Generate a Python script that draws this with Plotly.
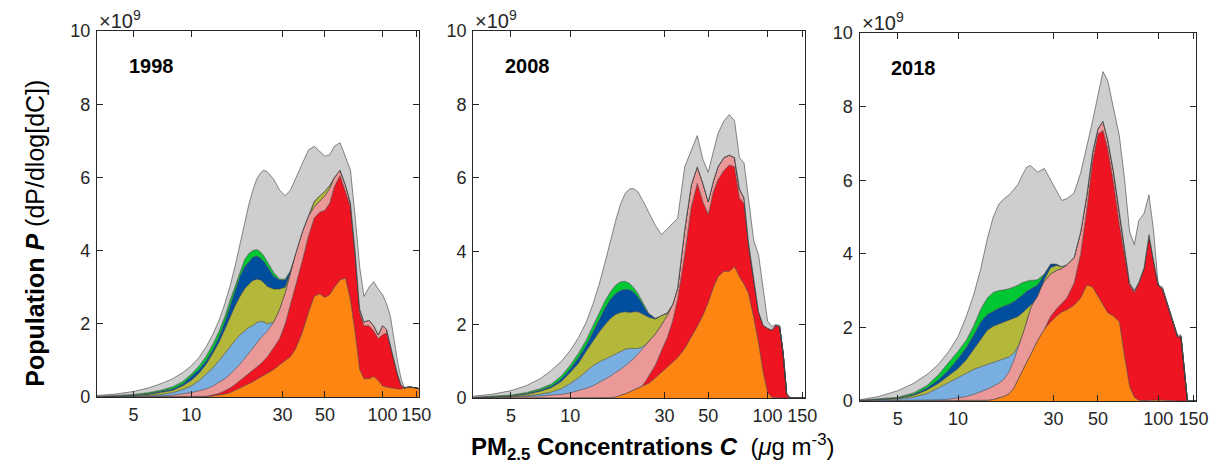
import plotly.graph_objects as go
from plotly.subplots import make_subplots

# PM2.5 concentration grid (ug m-3), shared by all panels
C = [3.2, 4, 5, 6, 7, 8, 9, 10, 11, 12, 13, 14, 15, 16, 17, 18, 19, 20, 21, 22, 23, 24, 25,
     27, 29, 31, 33, 35, 38, 41, 44, 47, 50, 53, 56, 60, 64, 68, 72, 76, 80,
     85, 90, 95, 100, 105, 110, 115, 120, 125, 130, 135, 140, 150, 160]

# cumulative tops of each stacked layer (x1e9), bottom layer first
# 1998
P1998_ORANGE = [0, 0, 0, 0, 0, 0, 0, 0, 0.01, 0.01, 0.03, 0.05, 0.08, 0.12, 0.18, 0.24, 0.3, 0.36, 0.42, 0.48, 0.53, 0.58, 0.63,
                0.75, 0.88, 1.0, 1.1, 1.3, 1.75, 2.3, 2.75, 2.82, 2.72, 2.8, 3.0, 3.2, 3.25, 2.65, 1.75, 0.75, 0.5,
                0.5, 0.56, 0.45, 0.3, 0.27, 0.25, 0.24, 0.22, 0.22, 0.25, 0.27, 0.27, 0.25, 0.2]
P1998_RED = [0, 0, 0, 0, 0, 0, 0, 0, 0.01, 0.02, 0.06, 0.1, 0.17, 0.25, 0.35, 0.45, 0.55, 0.65, 0.73, 0.8, 0.9, 1.0, 1.1,
             1.35, 1.6, 2.0, 2.5, 3.0, 3.7, 4.4, 4.9, 5.05, 5.1, 5.3, 5.75, 6.05, 5.6, 5.2, 3.8, 2.3, 1.95,
             1.95, 1.8, 1.6, 1.7, 1.75, 1.4, 0.95, 0.6, 0.32, 0.25, 0.27, 0.27, 0.25, 0.2]
P1998_PINK = [0, 0.005, 0.01, 0.02, 0.03, 0.05, 0.08, 0.12, 0.17, 0.22, 0.3, 0.4, 0.5, 0.62, 0.75, 0.9, 1.05, 1.2, 1.35, 1.5, 1.6, 1.7, 1.8,
              2.05, 2.4, 2.85, 3.4, 3.9, 4.5, 4.95, 5.2, 5.35, 5.5, 5.7, 6.0, 6.2, 5.8, 5.3, 3.95, 2.4, 2.05,
              2.1, 1.95, 1.7, 1.95, 1.85, 1.45, 1.0, 0.62, 0.33, 0.25, 0.27, 0.27, 0.25, 0.2]
P1998_LBLUE = [0.005, 0.01, 0.02, 0.04, 0.07, 0.12, 0.2, 0.3, 0.45, 0.62, 0.8, 1.0, 1.2, 1.4, 1.55, 1.7, 1.8, 1.9, 1.95, 2.03, 2.07, 2.05, 2.0,
               2.05, 2.4, 2.85, 3.4, 3.9, 4.5, 4.95, 5.2, 5.35, 5.5, 5.7, 6.0, 6.2, 5.8, 5.3, 3.95, 2.4, 2.05,
               2.1, 1.95, 1.7, 1.95, 1.85, 1.45, 1.0, 0.62, 0.33, 0.25, 0.27, 0.27, 0.25, 0.2]
P1998_OLIVE = [0.01, 0.02, 0.04, 0.07, 0.12, 0.18, 0.3, 0.45, 0.65, 0.9, 1.2, 1.5, 1.85, 2.2, 2.5, 2.75, 2.95, 3.08, 3.18, 3.22, 3.2, 3.12, 3.02,
               2.95, 2.95, 3.0, 3.4, 3.9, 4.5, 4.95, 5.35, 5.5, 5.62, 5.78, 6.0, 6.2, 5.8, 5.3, 3.95, 2.4, 2.05,
               2.1, 1.95, 1.7, 1.95, 1.85, 1.45, 1.0, 0.62, 0.33, 0.25, 0.27, 0.27, 0.25, 0.2]
P1998_DBLUE = [0.01, 0.03, 0.05, 0.09, 0.15, 0.22, 0.35, 0.55, 0.75, 1.0, 1.3, 1.65, 2.05, 2.5, 2.9, 3.3, 3.55, 3.7, 3.82, 3.85, 3.8, 3.7, 3.55,
               3.3, 3.2, 3.2, 3.45, 3.9, 4.5, 4.95, 5.35, 5.5, 5.62, 5.78, 6.0, 6.2, 5.8, 5.3, 3.95, 2.4, 2.05,
               2.1, 1.95, 1.7, 1.95, 1.85, 1.45, 1.0, 0.62, 0.33, 0.25, 0.27, 0.27, 0.25, 0.2]
P1998_GREEN = [0.015, 0.04, 0.07, 0.12, 0.19, 0.28, 0.42, 0.62, 0.85, 1.12, 1.45, 1.8, 2.2, 2.65, 3.05, 3.45, 3.75, 3.92, 4.0, 4.03, 3.97, 3.85, 3.7,
               3.4, 3.22, 3.22, 3.45, 3.9, 4.5, 4.95, 5.35, 5.5, 5.62, 5.78, 6.0, 6.2, 5.8, 5.3, 3.95, 2.4, 2.05,
               2.1, 1.95, 1.7, 1.95, 1.85, 1.45, 1.0, 0.62, 0.33, 0.25, 0.27, 0.27, 0.25, 0.2]
P1998_GRAY = [0.04, 0.08, 0.15, 0.25, 0.37, 0.5, 0.66, 0.85, 1.08, 1.38, 1.72, 2.1, 2.55, 3.05, 3.6, 4.2, 4.75, 5.25, 5.65, 5.95, 6.12, 6.2, 6.15,
              5.95, 5.65, 5.5, 5.65, 5.95, 6.35, 6.75, 6.85, 6.72, 6.58, 6.62, 6.85, 6.95, 6.55, 6.2, 4.9, 3.55, 2.75,
              3.0, 3.15, 2.95, 2.8, 2.55, 2.2, 1.55, 0.95, 0.5, 0.26, 0.27, 0.27, 0.25, 0.2]

# 2008
P2008_ORANGE = [0, 0, 0, 0, 0, 0, 0, 0, 0, 0, 0, 0, 0.01, 0.01, 0.03, 0.07, 0.12, 0.17, 0.22, 0.27, 0.3, 0.35, 0.4,
                0.55, 0.7, 0.82, 0.95, 1.1, 1.35, 1.65, 1.95, 2.25, 2.6, 3.0, 3.3, 3.45, 3.45, 3.58, 3.3, 3.1, 2.85,
                2.2, 1.5, 0.7, 0.15, 0.02, 0, 0, 0, 0, 0, 0, 0, 0, 0]
P2008_RED = [0, 0, 0, 0, 0, 0, 0, 0, 0, 0, 0, 0, 0.01, 0.01, 0.03, 0.07, 0.12, 0.17, 0.22, 0.27, 0.32, 0.45, 0.6,
             0.9, 1.3, 1.65, 2.1, 2.7, 3.9, 5.2, 5.85, 5.35, 5.0, 5.6, 5.95, 6.2, 6.35, 6.3, 5.45, 5.3, 4.15,
             3.2, 2.35, 1.98, 1.9, 1.85, 1.98, 1.95, 1.2, 0.1, 0, 0, 0, 0, 0]
P2008_PINK = [0, 0.01, 0.02, 0.03, 0.05, 0.08, 0.1, 0.14, 0.2, 0.26, 0.33, 0.42, 0.5, 0.6, 0.7, 0.78, 0.88, 0.98, 1.08, 1.2, 1.32, 1.45, 1.55,
              1.75, 2.0, 2.25, 2.55, 3.0, 4.6, 5.8, 6.3, 5.85, 5.35, 5.9, 6.3, 6.55, 6.62, 6.55, 5.7, 5.45, 4.25,
              3.2, 2.35, 1.98, 1.9, 1.85, 1.98, 1.95, 1.2, 0.1, 0, 0, 0, 0, 0]
P2008_LBLUE = [0.005, 0.015, 0.03, 0.06, 0.1, 0.16, 0.25, 0.4, 0.55, 0.72, 0.88, 0.98, 1.06, 1.12, 1.2, 1.27, 1.33, 1.35, 1.35, 1.35, 1.38, 1.45, 1.55,
               1.75, 2.0, 2.25, 2.55, 3.0, 4.6, 5.8, 6.3, 5.85, 5.35, 5.9, 6.3, 6.55, 6.62, 6.55, 5.7, 5.45, 4.25,
               3.2, 2.35, 1.98, 1.9, 1.85, 1.98, 1.95, 1.2, 0.1, 0, 0, 0, 0, 0]
P2008_OLIVE = [0.01, 0.03, 0.05, 0.1, 0.18, 0.28, 0.45, 0.7, 0.95, 1.27, 1.55, 1.8, 2.0, 2.17, 2.28, 2.33, 2.35, 2.33, 2.35, 2.35, 2.3, 2.25, 2.2,
               2.15, 2.25, 2.3, 2.55, 3.0, 4.6, 5.8, 6.3, 5.85, 5.35, 5.9, 6.3, 6.55, 6.62, 6.55, 5.7, 5.45, 4.25,
               3.2, 2.35, 1.98, 1.9, 1.85, 1.98, 1.95, 1.2, 0.1, 0, 0, 0, 0, 0]
P2008_DBLUE = [0.015, 0.035, 0.06, 0.12, 0.21, 0.32, 0.52, 0.8, 1.1, 1.42, 1.8, 2.15, 2.45, 2.7, 2.85, 2.93, 2.96, 2.95, 2.88, 2.75, 2.6, 2.42, 2.3,
               2.17, 2.25, 2.32, 2.55, 3.0, 4.6, 5.8, 6.3, 5.85, 5.35, 5.9, 6.3, 6.55, 6.62, 6.55, 5.7, 5.45, 4.25,
               3.2, 2.35, 1.98, 1.9, 1.85, 1.98, 1.95, 1.2, 0.1, 0, 0, 0, 0, 0]
P2008_GREEN = [0.02, 0.045, 0.08, 0.15, 0.25, 0.38, 0.6, 0.9, 1.22, 1.57, 1.95, 2.32, 2.65, 2.9, 3.08, 3.17, 3.18, 3.12, 3.0, 2.85, 2.65, 2.45, 2.3,
               2.17, 2.25, 2.32, 2.55, 3.0, 4.6, 5.8, 6.3, 5.85, 5.35, 5.9, 6.3, 6.55, 6.62, 6.55, 5.7, 5.45, 4.25,
               3.2, 2.35, 1.98, 1.9, 1.85, 1.98, 1.95, 1.2, 0.1, 0, 0, 0, 0, 0]
P2008_GRAY = [0.05, 0.1, 0.2, 0.34, 0.52, 0.75, 1.0, 1.3, 1.65, 2.05, 2.55, 3.1, 3.7, 4.3, 4.85, 5.3, 5.58, 5.7, 5.7, 5.62, 5.45, 5.25, 5.05,
              4.7, 4.45, 4.62, 4.75, 4.9, 6.3, 6.75, 7.15, 6.5, 6.15, 6.7, 7.2, 7.55, 7.72, 7.55, 6.55, 6.4, 5.4,
              4.3, 3.9, 2.9, 2.1, 1.95, 2.0, 1.98, 1.25, 0.12, 0, 0, 0, 0, 0]

# 2018
P2018_ORANGE = [0, 0, 0, 0, 0, 0, 0, 0, 0, 0, 0.01, 0.02, 0.04, 0.08, 0.13, 0.2, 0.35, 0.6, 0.85, 1.05, 1.25, 1.45, 1.65,
                1.95, 2.15, 2.3, 2.42, 2.48, 2.6, 2.8, 3.15, 3.1, 2.85, 2.6, 2.4, 2.3, 2.15, 1.2, 0.4, 0.1, 0.02,
                0.01, 0.02, 0.03, 0.03, 0.02, 0.01, 0, 0, 0, 0, 0, 0, 0, 0]
P2018_RED = [0, 0, 0, 0, 0, 0, 0, 0, 0, 0, 0.01, 0.02, 0.04, 0.08, 0.13, 0.2, 0.35, 0.6, 0.85, 1.05, 1.25, 1.45, 1.65,
             1.95, 2.3, 2.5, 2.65, 2.8, 3.2, 4.0, 5.2, 6.5, 7.25, 7.35, 6.85, 5.9, 4.8, 3.9, 3.15, 2.95, 3.2,
             3.6, 4.5, 3.8, 3.15, 3.05, 2.7, 2.4, 2.05, 1.75, 1.75, 0.8, 0, 0, 0]
P2018_PINK = [0, 0.005, 0.01, 0.015, 0.02, 0.03, 0.05, 0.08, 0.12, 0.18, 0.25, 0.32, 0.4, 0.48, 0.6, 0.8, 1.1, 1.45, 1.8, 2.15, 2.5, 2.75, 2.95,
              3.25, 3.45, 3.55, 3.6, 3.7, 3.9, 4.6, 5.6, 6.75, 7.4, 7.6, 7.1, 6.2, 5.1, 4.1, 3.2, 3.0, 3.22,
              3.62, 4.52, 3.8, 3.15, 3.05, 2.7, 2.4, 2.05, 1.75, 1.75, 0.8, 0, 0, 0]
P2018_LBLUE = [0.005, 0.02, 0.05, 0.1, 0.2, 0.36, 0.5, 0.64, 0.76, 0.86, 0.93, 1.0, 1.05, 1.1, 1.15, 1.2, 1.3, 1.5, 1.8, 2.15, 2.5, 2.75, 2.95,
               3.25, 3.45, 3.55, 3.6, 3.7, 3.9, 4.6, 5.6, 6.75, 7.4, 7.6, 7.1, 6.2, 5.1, 4.1, 3.2, 3.0, 3.22,
               3.62, 4.52, 3.8, 3.15, 3.05, 2.7, 2.4, 2.05, 1.75, 1.75, 0.8, 0, 0, 0]
P2018_OLIVE = [0.01, 0.03, 0.07, 0.15, 0.3, 0.48, 0.68, 0.88, 1.12, 1.4, 1.68, 1.92, 2.03, 2.1, 2.15, 2.2, 2.25, 2.3, 2.4, 2.5, 2.6, 2.7, 2.85,
               3.3, 3.62, 3.68, 3.65, 3.7, 3.9, 4.6, 5.6, 6.75, 7.4, 7.6, 7.1, 6.2, 5.1, 4.1, 3.2, 3.0, 3.22,
               3.62, 4.52, 3.8, 3.15, 3.05, 2.7, 2.4, 2.05, 1.75, 1.75, 0.8, 0, 0, 0]
P2018_DBLUE = [0.015, 0.04, 0.08, 0.18, 0.35, 0.58, 0.85, 1.15, 1.45, 1.8, 2.15, 2.35, 2.45, 2.52, 2.58, 2.63, 2.7, 2.78, 2.88, 2.98, 3.05, 3.1, 3.15,
               3.45, 3.72, 3.72, 3.65, 3.7, 3.9, 4.6, 5.6, 6.75, 7.4, 7.6, 7.1, 6.2, 5.1, 4.1, 3.2, 3.0, 3.22,
               3.62, 4.52, 3.8, 3.15, 3.05, 2.7, 2.4, 2.05, 1.75, 1.75, 0.8, 0, 0, 0]
P2018_GREEN = [0.02, 0.05, 0.1, 0.22, 0.42, 0.72, 1.05, 1.35, 1.65, 2.05, 2.5, 2.8, 2.95, 3.0, 3.02, 3.05, 3.1, 3.15, 3.22, 3.26, 3.28, 3.28, 3.3,
               3.45, 3.72, 3.72, 3.65, 3.7, 3.9, 4.6, 5.6, 6.75, 7.4, 7.6, 7.1, 6.2, 5.1, 4.1, 3.2, 3.0, 3.22,
               3.62, 4.52, 3.8, 3.15, 3.05, 2.7, 2.4, 2.05, 1.75, 1.75, 0.8, 0, 0, 0]
P2018_GRAY = [0.03, 0.12, 0.28, 0.48, 0.72, 1.0, 1.35, 1.75, 2.3, 2.9, 3.6, 4.4, 5.0, 5.35, 5.5, 5.6, 5.75, 5.9, 6.15, 6.35, 6.4, 6.3, 6.22,
              6.32, 6.0, 5.7, 5.45, 5.5, 5.65, 6.2, 6.9, 7.6, 8.3, 8.95, 8.7, 7.9, 7.2, 6.0, 4.6, 4.25, 4.9,
              5.1, 5.6, 4.6, 3.15, 3.1, 2.75, 2.45, 2.1, 1.78, 1.8, 0.9, 0.02, 0, 0]

YEARS = ["1998", "2008", "2018"]
LAYER_COLORS = ["#FF8512", "#EE1422", "#EB9898", "#79AEE0", "#B4B83A", "#004E9E", "#00C832", "#CECECE"]
X_TICKS = [5, 10, 30, 50, 100, 150]
Y_TICKS = [0, 2, 4, 6, 8, 10]

panels = [
    [P1998_ORANGE, P1998_RED, P1998_PINK, P1998_LBLUE, P1998_OLIVE, P1998_DBLUE, P1998_GREEN, P1998_GRAY],
    [P2008_ORANGE, P2008_RED, P2008_PINK, P2008_LBLUE, P2008_OLIVE, P2008_DBLUE, P2008_GREEN, P2008_GRAY],
    [P2018_ORANGE, P2018_RED, P2018_PINK, P2018_LBLUE, P2018_OLIVE, P2018_DBLUE, P2018_GREEN, P2018_GRAY],
]

W, H = 1229, 465
MT, MB = 31, 64
PH = H - MT - MB
# pixel boxes of the three axes: (left, right, top, bottom)
boxes = [(98, 423, 31, 397), (478, 813, 31, 398), (868, 1208, 33, 401)]
AXIS_COL = "#262626"
FONT = "Arial, Liberation Sans, Helvetica, sans-serif"

fig = make_subplots(rows=1, cols=3)

for col, layers in enumerate(panels, start=1):
    for i, (tops, color) in enumerate(zip(layers, LAYER_COLORS)):
        fig.add_trace(go.Scatter(
            x=C, y=tops, mode="lines",
            line=dict(color="rgba(60,60,60,0.85)", width=0.7),
            fill="tozeroy" if i == 0 else "tonexty",
            fillcolor=color, showlegend=False, hoverinfo="skip"),
            row=1, col=col)

for col in range(1, 4):
    x0, x1, y0, y1 = boxes[col - 1]
    fig.update_xaxes(type="log", range=[0.508, 2.19], domain=[x0 / W, x1 / W],
                     tickvals=X_TICKS, ticktext=[str(t) for t in X_TICKS],
                     ticks="inside", ticklen=6, tickwidth=1.3, tickcolor=AXIS_COL,
                     showline=True, linecolor=AXIS_COL, linewidth=1.3, mirror="ticks",
                     showgrid=False, zeroline=False, ticklabelstandoff=1,
                     tickfont=dict(size=18, color=AXIS_COL), row=1, col=col)
    fig.update_yaxes(range=[0, 10], domain=[(H - MB - y1) / PH, (H - MB - y0) / PH],
                     tickvals=Y_TICKS, ticktext=[str(t) for t in Y_TICKS],
                     ticks="inside", ticklen=6, tickwidth=1.3, tickcolor=AXIS_COL,
                     showline=True, linecolor=AXIS_COL, linewidth=1.3, mirror="ticks",
                     showgrid=False, zeroline=False, ticklabelstandoff=2,
                     tickfont=dict(size=18, color=AXIS_COL), row=1, col=col)

    xref = "x domain" if col == 1 else f"x{col} domain"
    yref = "y domain" if col == 1 else f"y{col} domain"
    fig.add_annotation(text=f"<b>{YEARS[col - 1]}</b>", xref=xref, yref=yref,
                       x=30 / (x1 - x0), y=1 - 35 / (y1 - y0), xanchor="left", yanchor="middle",
                       showarrow=False, font=dict(size=20, color="black"))
    fig.add_annotation(text="×10<sup>9</sup>", xref=xref, yref=yref,
                       x=0.0, y=1.0, xanchor="left", yanchor="bottom", yshift=-3, showarrow=False,
                       font=dict(size=20, color=AXIS_COL))

fig.add_annotation(text="<b>Population <i>P</i></b> (dP/dlog[dC])", xref="paper", yref="paper",
                   x=35 / W, y=(H - MB - 233) / PH, textangle=-90, xanchor="center", yanchor="middle",
                   showarrow=False, font=dict(size=25, color="black"))
fig.add_annotation(text="<b>PM<sub>2.5</sub> Concentrations <i>C</i></b>  (<i>μ</i>g m<sup>-3</sup>)",
                   xref="paper", yref="paper", x=659 / W, y=(H - MB - 447) / PH,
                   xanchor="center", yanchor="middle",
                   showarrow=False, font=dict(size=24, color="black"))

fig.update_layout(width=W, height=H, margin=dict(l=0, r=0, t=MT, b=MB),
                  plot_bgcolor="white", paper_bgcolor="white",
                  font=dict(family=FONT, color=AXIS_COL))

fig.write_html("out.html", config={"displayModeBar": False},
               post_script="document.body.style.margin='0';document.body.style.overflow='hidden';")
